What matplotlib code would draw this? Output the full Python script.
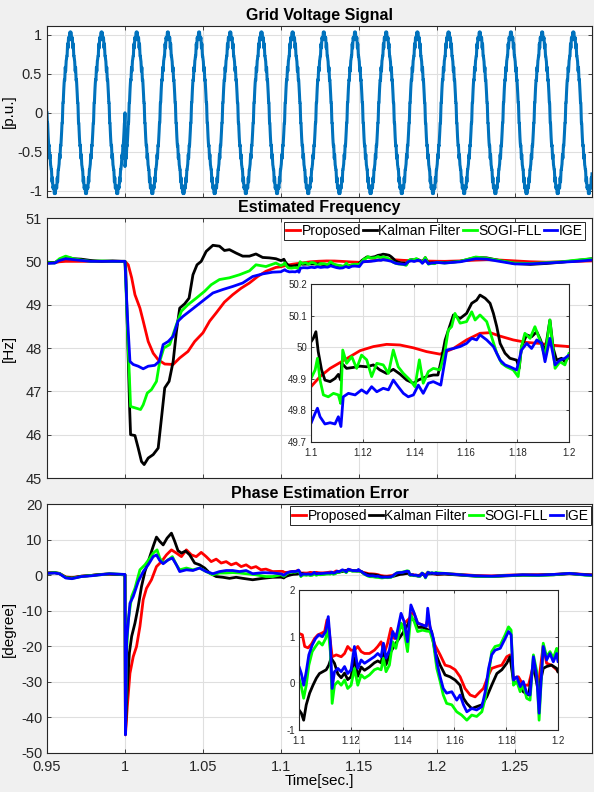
import numpy as np
import matplotlib
matplotlib.use('Agg')
import matplotlib.pyplot as plt
from matplotlib.ticker import FuncFormatter, MultipleLocator

plt.rcParams['font.family'] = ['Liberation Sans', 'DejaVu Sans']
plt.rcParams['axes.unicode_minus'] = False

OUTPUT_FILE = 'out.png'

# ---- grid voltage model (p.u.) ----
V_START, V_END = 0.95, 1.2995
V_FREQ_HZ = 50.0
V_JUMP_TIME = 1.0
V_PHASE_JUMP_DEG = -45.0
V_HARMONIC_ORDER = [3, 5, 7, 27, 39]
V_HARMONIC_AMP = [0.02, 0.03, 0.02, 0.03, 0.025]

SERIES_NAMES = ['Proposed', 'Kalman Filter', 'SOGI-FLL', 'IGE']
SERIES_COLORS = ['#ff0000', '#000000', '#00ff00', '#0000ff']

# ---- estimated frequency [Hz] ----
FREQ_PRE_T = [0.95, 0.955, 0.958, 0.962, 0.967, 0.972, 0.978, 0.985, 0.992, 0.998]
FREQ_PRE_PROPOSED = [49.97, 49.97, 49.99, 50.0, 50.0, 50.0, 50.0, 50.0, 50.0, 50.0]
FREQ_PRE_KALMAN = [49.98, 49.97, 50.04, 50.1, 50.06, 50.05, 50.02, 50.0, 50.01, 50.0]
FREQ_PRE_SOGI = [49.97, 49.96, 50.06, 50.12, 50.06, 50.03, 50.0, 50.01, 50.0, 50.0]
FREQ_PRE_IGE = [49.95, 49.96, 50.02, 50.06, 50.04, 50.02, 50.0, 50.0, 50.0, 50.0]

FREQ_PROPOSED_T = [1.0, 1.0021, 1.0043, 1.0064, 1.0096, 1.0117, 1.0149, 1.0181, 1.0213,
                   1.0255, 1.0309, 1.0351, 1.0404, 1.0447, 1.05, 1.0543, 1.0585, 1.0638,
                   1.0691, 1.0745, 1.0798, 1.0851, 1.0904, 1.0968,
                   1.1, 1.1035, 1.1074, 1.1112, 1.1151, 1.119, 1.1242, 1.1293, 1.1345,
                   1.1397, 1.1448, 1.15, 1.1552, 1.1603, 1.1655, 1.1694, 1.1733, 1.1784,
                   1.1836, 1.1887, 1.1939, 1.2]
FREQ_PROPOSED = [50.0, 49.92, 49.62, 49.23, 48.92, 48.62, 48.15, 47.88, 47.73,
                 47.63, 47.62, 47.77, 47.92, 48.15, 48.35, 48.62, 48.81, 49.06,
                 49.23, 49.38, 49.5, 49.65, 49.77, 49.86,
                 49.875, 49.907, 49.933, 49.951, 49.97, 49.989, 50.002, 50.009, 50.007,
                 49.998, 49.986, 49.978, 49.996, 50.023, 50.044, 50.046, 50.035, 50.023,
                 50.015, 50.012, 50.006, 50.002]

FREQ_KALMAN_T = [1.0, 1.0005, 1.003, 1.0036, 1.0064, 1.0085, 1.0106, 1.0123, 1.0149, 1.0181,
                 1.0213, 1.0234, 1.0255, 1.0283, 1.0309, 1.033, 1.0351, 1.0383, 1.0411,
                 1.0436, 1.0462, 1.0489, 1.0521, 1.0564, 1.0606, 1.0638, 1.067, 1.0713,
                 1.0755, 1.0798, 1.084, 1.0883, 1.0926, 1.0968,
                 1.1, 1.1009, 1.1019, 1.1028, 1.1041, 1.1054, 1.1074, 1.1093, 1.1106,
                 1.1115, 1.1119, 1.1138, 1.1164, 1.119, 1.1216, 1.1242, 1.1267, 1.1293,
                 1.1319, 1.1345, 1.1371, 1.1397, 1.1416, 1.1448, 1.1474, 1.1492, 1.1505,
                 1.152, 1.1552, 1.1578, 1.1603, 1.1623, 1.1642, 1.1655, 1.1675, 1.1694,
                 1.1707, 1.172, 1.1733, 1.1752, 1.1771, 1.1797, 1.1807, 1.1816, 1.1836,
                 1.1855, 1.1875, 1.1887, 1.1907, 1.1926, 1.1939, 1.1952, 1.1971, 1.1984, 1.2]
FREQ_KALMAN = [50.0, 49.8, 46.6, 46.0, 45.98, 45.69, 45.38, 45.31, 45.46, 45.54,
               45.69, 46.38, 47.08, 47.23, 47.69, 48.38, 48.92, 49.02, 49.15,
               49.69, 49.92, 50.0, 50.23, 50.37, 50.35, 50.25, 50.27, 50.19,
               50.12, 50.12, 50.17, 50.09, 50.08, 50.06,
               50.017, 50.028, 50.049, 49.986, 49.928, 49.896, 49.891, 49.901, 49.914,
               49.896, 49.949, 49.933, 49.936, 49.94, 49.938, 49.944, 49.928, 49.917,
               49.93, 49.915, 49.896, 49.886, 49.896, 49.907, 49.912, 49.912, 49.96,
               50.023, 50.102, 50.091, 50.107, 50.139, 50.149, 50.165, 50.155, 50.139,
               50.107, 50.065, 50.012, 49.981, 49.965, 49.959, 49.933, 50.002, 50.039,
               50.033, 50.049, 50.028, 49.986, 50.086, 49.996, 49.959, 49.965, 49.954, 49.97]

FREQ_SOGI_T = [1.0, 1.0021, 1.0036, 1.0064, 1.01, 1.0117, 1.0143, 1.017, 1.0202, 1.0223,
               1.0249, 1.0287, 1.033, 1.0362, 1.0404, 1.0457, 1.0511, 1.0553, 1.0606,
               1.067, 1.0734, 1.0798, 1.084, 1.0904, 1.0968,
               1.1, 1.1016, 1.1025, 1.1035, 1.1048, 1.1067, 1.1087, 1.1106, 1.1115,
               1.1123, 1.1138, 1.1158, 1.1177, 1.1196, 1.1216, 1.1235, 1.1255, 1.128,
               1.13, 1.1319, 1.1338, 1.1358, 1.1384, 1.1403, 1.142, 1.1435, 1.1455,
               1.1474, 1.15, 1.1519, 1.1532, 1.1545, 1.1558, 1.1578, 1.1603, 1.1623,
               1.1636, 1.1655, 1.1681, 1.17, 1.172, 1.1739, 1.1758, 1.1784, 1.1803,
               1.1816, 1.1829, 1.1849, 1.1868, 1.1887, 1.1907, 1.1926, 1.1946, 1.1965,
               1.1984, 1.2]
FREQ_SOGI = [50.0, 48.0, 46.65, 46.62, 46.58, 46.69, 46.96, 47.04, 47.23, 47.69,
             48.0, 48.08, 48.54, 48.85, 49.0, 49.15, 49.31, 49.46, 49.58,
             49.62, 49.69, 49.78, 49.92, 49.88, 49.96,
             49.901, 49.928, 49.965, 49.896, 49.849, 49.843, 49.854, 49.849, 49.822,
             49.991, 49.949, 49.97, 49.933, 49.975, 49.96, 49.907, 49.949, 49.944,
             49.917, 49.991, 49.938, 49.917, 49.896, 49.875, 49.96, 49.886, 49.923,
             49.933, 49.928, 49.986, 50.054, 50.065, 50.107, 50.076, 50.081, 50.112,
             50.086, 50.102, 50.081, 50.033, 49.981, 49.949, 49.938, 49.928, 49.907,
             50.002, 50.044, 50.028, 50.065, 50.023, 49.97, 50.086, 49.933, 49.954,
             49.944, 49.981]

FREQ_IGE_T = [1.0, 1.0015, 1.0032, 1.0053, 1.0085, 1.0117, 1.0149, 1.0191, 1.0219, 1.0245,
              1.0277, 1.0309, 1.034, 1.0372, 1.0415, 1.0468, 1.0521, 1.0564, 1.0628,
              1.0691, 1.0755, 1.0819, 1.0883, 1.0947,
              1.1, 1.1016, 1.1025, 1.1035, 1.1054, 1.1074, 1.1093, 1.1106, 1.1116,
              1.1125, 1.1145, 1.1171, 1.1196, 1.1216, 1.1235, 1.1255, 1.128, 1.13,
              1.1319, 1.1338, 1.1358, 1.1377, 1.1397, 1.1416, 1.1435, 1.1455, 1.1474,
              1.1503, 1.1526, 1.1552, 1.1578, 1.1603, 1.1623, 1.1642, 1.1655, 1.1681,
              1.1707, 1.1733, 1.1752, 1.1771, 1.1797, 1.1816, 1.1836, 1.1855, 1.1875,
              1.1894, 1.1907, 1.1926, 1.1946, 1.1965, 1.1984, 1.2]
FREQ_IGE = [50.0, 48.77, 47.69, 47.62, 47.58, 47.52, 47.58, 47.6, 47.69, 48.08,
            48.15, 48.27, 48.62, 48.73, 48.85, 49.0, 49.15, 49.27, 49.35,
            49.42, 49.5, 49.65, 49.71, 49.75,
            49.759, 49.791, 49.807, 49.78, 49.757, 49.761, 49.757, 49.78, 49.749,
            49.843, 49.854, 49.849, 49.865, 49.854, 49.875, 49.859, 49.87, 49.865,
            49.896, 49.875, 49.854, 49.843, 49.849, 49.88, 49.854, 49.886, 49.891,
            49.88, 49.991, 49.996, 50.002, 50.012, 50.028, 50.023, 50.039, 50.023,
            50.002, 49.959, 49.944, 49.938, 49.928, 49.991, 50.012, 49.996, 50.023,
            50.012, 49.954, 50.028, 49.944, 49.959, 49.965, 49.975]

FREQ_POST_T = [1.205, 1.215, 1.225, 1.232, 1.24, 1.25, 1.26, 1.27, 1.28, 1.29, 1.2995]
FREQ_POST_PROPOSED = [50.0, 50.01, 50.03, 50.04, 50.03, 50.01, 49.99, 49.98, 49.99, 50.0, 50.01]
FREQ_POST_KALMAN = [49.97, 50.0, 50.09, 50.08, 50.02, 49.95, 49.93, 49.95, 49.98, 50.02, 50.06]
FREQ_POST_SOGI = [49.96, 50.0, 50.1, 50.07, 50.02, 49.96, 49.95, 49.97, 49.99, 50.03, 50.06]
FREQ_POST_IGE = [49.96, 49.99, 50.06, 50.05, 50.0, 49.94, 49.94, 49.96, 49.98, 50.0, 50.03]

# ---- phase estimation error [degree] ----
PHASE_PRE_T = [0.95, 0.955, 0.958, 0.962, 0.966, 0.972, 0.978, 0.984, 0.99, 0.995, 0.9995]
PHASE_PRE_PROPOSED = [0.6, 0.7, 0.5, -0.5, -0.7, -0.3, -0.1, 0.2, 0.3, 0.2, 0.1]
PHASE_PRE_KALMAN = [0.6, 0.7, 0.4, -0.6, -0.8, -0.3, -0.1, 0.2, 0.3, 0.2, 0.1]
PHASE_PRE_SOGI = [0.5, 0.7, 0.5, -0.7, -0.9, -0.4, -0.1, 0.1, 0.4, 0.3, 0.1]
PHASE_PRE_IGE = [0.5, 0.6, 0.4, -0.8, -1.0, -0.4, -0.2, 0.1, 0.4, 0.3, 0.2]

PHASE_PROPOSED_T = [1.0, 1.0003, 1.0015, 1.0032, 1.0053, 1.0074, 1.0096, 1.0117, 1.0138,
                    1.017, 1.0202, 1.0234, 1.0266, 1.0298, 1.033, 1.0362, 1.0394, 1.0426,
                    1.0457, 1.0489, 1.0521, 1.0553, 1.0585, 1.0617, 1.0649, 1.0681,
                    1.0713, 1.0745, 1.0777, 1.0809, 1.084, 1.0872, 1.0904, 1.0947,
                    1.1, 1.1013, 1.1022, 1.1035, 1.1048, 1.106, 1.1073, 1.1086, 1.1099,
                    1.1108, 1.1115, 1.1128, 1.1144, 1.1163, 1.1176, 1.1188, 1.1201, 1.1214,
                    1.1227, 1.124, 1.1253, 1.1272, 1.1291, 1.1304, 1.1317, 1.1329, 1.1342,
                    1.1355, 1.1368, 1.1381, 1.14, 1.1413, 1.1426, 1.1441, 1.1458, 1.1477,
                    1.1488, 1.1499, 1.1512, 1.1525, 1.1545, 1.1564, 1.1583, 1.1603, 1.1622,
                    1.1641, 1.1661, 1.168, 1.1699, 1.1712, 1.1732, 1.1744, 1.1764, 1.1783,
                    1.1802, 1.1815, 1.1828, 1.1847, 1.1866, 1.1886, 1.1905, 1.1924, 1.1943,
                    1.1956, 1.1975, 1.1995, 1.2]
PHASE_PROPOSED = [0.1, -44.9, -36.9, -27.6, -22.9, -20.1, -14.4, -6.9, -3.7,
                  -1.3, 2.4, 3.8, 5.7, 7.1, 6.2, 5.2, 7.1, 5.7,
                  5.2, 6.4, 5.2, 3.8, 4.5, 3.4, 3.8, 2.9,
                  3.4, 2.4, 2.9, 2.0, 2.4, 1.5, 1.7, 1.0,
                  1.07, 1.04, 0.79, 0.76, 0.84, 0.96, 1.04, 1.07, 1.11,
                  1.36, 1.18, 0.57, 0.61, 0.57, 0.64, 0.79, 0.71, 0.71,
                  0.79, 0.68, 0.64, 0.64, 0.71, 0.79, 0.89, 0.64, 0.86,
                  1.18, 0.96, 1.11, 1.25, 1.32, 1.39, 1.54, 1.29, 1.25,
                  1.21, 1.39, 1.04, 0.82, 0.61, 0.39, 0.36, 0.29, 0.14,
                  -0.11, -0.25, -0.29, -0.18, -0.11, 0.18, 0.32, 0.36, 0.39,
                  0.57, 0.61, 0.11, 0.14, -0.04, -0.04, 0.39, -0.04, 0.82,
                  0.43, 0.39, 0.29, 0.25]

PHASE_KALMAN_T = [1.0, 1.0003, 1.0011, 1.0028, 1.0043, 1.0064, 1.0085, 1.0106, 1.0128,
                  1.0149, 1.0181, 1.0202, 1.0223, 1.0245, 1.027, 1.0298, 1.0319, 1.034,
                  1.0362, 1.0389, 1.0415, 1.0447, 1.0479, 1.0511, 1.0543, 1.0585,
                  1.0628, 1.067, 1.0713, 1.0755, 1.0819, 1.0883, 1.0947,
                  1.1, 1.1009, 1.1018, 1.1028, 1.1041, 1.1054, 1.1067, 1.1079, 1.1092,
                  1.1105, 1.1115, 1.1124, 1.1137, 1.115, 1.1163, 1.1176, 1.1188, 1.1201,
                  1.1214, 1.1227, 1.124, 1.1253, 1.1272, 1.1291, 1.1304, 1.1317, 1.1326,
                  1.1336, 1.1355, 1.1374, 1.14, 1.1419, 1.1432, 1.1445, 1.1458, 1.1477,
                  1.1486, 1.1512, 1.1525, 1.1545, 1.1564, 1.1583, 1.1603, 1.1622, 1.1635,
                  1.1648, 1.1667, 1.1686, 1.1706, 1.1725, 1.1744, 1.1764, 1.1783, 1.1802,
                  1.1815, 1.1828, 1.1847, 1.1866, 1.1886, 1.1905, 1.1924, 1.1943, 1.1956,
                  1.1975, 1.1995, 1.2]
PHASE_KALMAN = [0.1, -44.4, -35.0, -21.9, -17.2, -13.5, -8.8, -3.2, 1.0,
                3.8, 8.1, 10.7, 9.5, 8.5, 10.4, 11.8, 9.5, 6.9,
                6.2, 6.8, 5.7, 3.4, 2.9, 2.0, 0.6, -0.4,
                -0.6, -0.9, -0.6, -0.9, -1.3, -0.9, -0.6,
                -0.57, -0.64, -0.79, -0.46, -0.21, -0.04, 0.11, 0.21, 0.25,
                0.29, 0.39, 0.54, 0.43, 0.2, 0.12, 0.22, 0.08, 0.14,
                0.55, 0.15, 0.35, 0.28, 0.35, 0.44, 0.48, 0.44, 0.7,
                0.4, 0.68, 0.86, 1.07, 1.25, 1.4, 1.35, 1.2, 1.2,
                1.18, 1.11, 0.68, 0.39, 0.18, 0.14, 0.07, -0.04, -0.32,
                -0.43, -0.54, -0.5, -0.46, -0.29, -0.04, 0.21, 0.29, 0.43,
                0.57, 0.04, 0.0, -0.18, -0.25, 0.39, -0.18, 0.32, 0.36,
                0.39, 0.32, 0.24]

PHASE_SOGI_T = [1.0, 1.0003, 1.0011, 1.0021, 1.0043, 1.0064, 1.0096, 1.0128, 1.016,
                1.0181, 1.0206, 1.0223, 1.0245, 1.0277, 1.0304, 1.033, 1.0351, 1.0394,
                1.0436, 1.0479, 1.0521, 1.0564, 1.0606, 1.0649, 1.0691, 1.0734,
                1.0777, 1.084, 1.0904, 1.0947,
                1.1, 1.1009, 1.1018, 1.1028, 1.1038, 1.1051, 1.1064, 1.1077, 1.109,
                1.1103, 1.1112, 1.1121, 1.1128, 1.1137, 1.115, 1.1163, 1.1176, 1.1188,
                1.1201, 1.1214, 1.1227, 1.124, 1.1253, 1.1272, 1.1291, 1.1304, 1.1317,
                1.1326, 1.1336, 1.1349, 1.1362, 1.1374, 1.1394, 1.1406, 1.1419, 1.1432,
                1.1445, 1.1458, 1.1477, 1.1492, 1.1506, 1.1519, 1.1532, 1.1545, 1.1557,
                1.157, 1.159, 1.1609, 1.1628, 1.1648, 1.1667, 1.1686, 1.1706, 1.1719,
                1.1732, 1.1744, 1.1757, 1.1777, 1.1796, 1.1809, 1.1819, 1.1828, 1.1841,
                1.1854, 1.1866, 1.1879, 1.1892, 1.1905, 1.1918, 1.1927, 1.1943, 1.1956,
                1.1969, 1.1982, 1.1995, 1.2]
PHASE_SOGI = [0.1, -44.4, -21.0, -12.6, -6.0, -3.7, 1.5, 2.9, 4.8,
              6.2, 7.1, 4.8, 3.4, 4.3, 5.2, 2.9, 1.5, 2.0,
              1.5, 2.0, 1.0, 0.1, 0.6, 0.6, 0.7, 0.6,
              0.4, 0.1, -0.4, -0.4,
              0.11, -0.07, -0.32, -0.04, 0.39, 0.68, 0.79, 0.89, 0.82,
              0.96, 1.18, 0.68, -0.43, -0.04, 0.04, -0.04, 0.07, -0.11,
              -0.04, 0.32, -0.04, 0.18, 0.11, 0.18, 0.29, 0.32, 0.29,
              0.54, 0.25, 0.39, 0.89, 0.75, 1.29, 1.11, 0.68, 1.46,
              1.32, 1.11, 1.14, 1.12, 1.11, 0.86, 0.32, 0.04, -0.25,
              -0.43, -0.46, -0.61, -0.68, -0.79, -0.68, -0.71, -0.61, -0.32,
              0.18, 0.68, 0.79, 0.82, 1.04, 1.21, 1.14, -0.04, 0.04,
              -0.18, -0.04, -0.32, -0.36, 0.61, 0.25, -0.79, 0.86, 0.57,
              0.68, 0.54, 0.75, 0.68]

PHASE_IGE_T = [1.0, 1.0003, 1.0011, 1.0032, 1.0053, 1.0085, 1.0117, 1.0149, 1.0181,
               1.0202, 1.0223, 1.0245, 1.0277, 1.0304, 1.033, 1.0351, 1.0394, 1.0436,
               1.0479, 1.0521, 1.0564, 1.0606, 1.0649, 1.0691, 1.0734, 1.0777,
               1.0819, 1.0883, 1.0947,
               1.1, 1.1009, 1.1018, 1.1028, 1.1038, 1.1051, 1.1064, 1.1077, 1.109,
               1.1103, 1.1113, 1.1121, 1.1128, 1.1137, 1.115, 1.1163, 1.1176, 1.1188,
               1.1201, 1.1214, 1.1227, 1.124, 1.1253, 1.1272, 1.1291, 1.1304, 1.1317,
               1.1326, 1.1336, 1.1349, 1.1362, 1.1374, 1.1394, 1.1406, 1.1419, 1.1432,
               1.1445, 1.1458, 1.1477, 1.1492, 1.1497, 1.1506, 1.1519, 1.1532, 1.1545,
               1.1557, 1.157, 1.159, 1.1609, 1.1622, 1.1635, 1.1648, 1.1667, 1.1686,
               1.1706, 1.1719, 1.1732, 1.1744, 1.1757, 1.1777, 1.1796, 1.1809, 1.1819,
               1.1828, 1.1841, 1.1854, 1.1866, 1.1879, 1.1892, 1.1905, 1.1918, 1.1927,
               1.1943, 1.1956, 1.1969, 1.1982, 1.1995, 1.2]
PHASE_IGE = [0.2, -44.9, -18.2, -7.9, -6.0, -1.8, 1.0, 2.9, 5.2,
             5.7, 4.1, 3.2, 4.3, 4.8, 2.9, 1.0, 1.5, 1.3,
             2.0, 1.0, 0.4, 1.0, 1.3, 1.3, 1.0, 1.3,
             0.4, 0.7, 0.6,
             0.36, 0.21, -0.04, 0.25, 0.61, 0.82, 0.96, 1.04, 1.0,
             1.11, 1.43, 0.89, -0.11, 0.25, 0.32, 0.25, 0.36, 0.21,
             0.29, 0.79, 0.32, 0.5, 0.43, 0.5, 0.57, 0.64, 0.57,
             0.86, 0.54, 0.71, 1.11, 0.96, 1.5, 1.32, 0.89, 1.68,
             1.5, 1.29, 1.25, 1.22, 1.61, 1.21, 0.96, 0.46, 0.14,
             -0.11, -0.21, -0.18, -0.36, -0.25, -0.46, -0.61, -0.54, -0.57,
             -0.5, -0.18, 0.32, 0.61, 0.71, 0.75, 0.96, 1.11, 1.04,
             0.07, 0.14, -0.07, 0.04, -0.21, -0.25, 0.57, 0.14, -0.64,
             0.79, 0.5, 0.64, 0.46, 0.64, 0.46]

PHASE_POST_T = [1.205, 1.215, 1.225, 1.235, 1.245, 1.255, 1.265, 1.275, 1.285, 1.295, 1.2995]
PHASE_POST_PROPOSED = [0.4, 0.2, -0.1, -0.2, 0.0, 0.1, 0.1, 0.2, 0.5, 0.2, 0.1]
PHASE_POST_KALMAN = [0.3, 0.0, -0.3, -0.4, -0.2, 0.0, 0.0, 0.1, 0.4, 0.1, 0.0]
PHASE_POST_SOGI = [0.5, 0.1, -0.3, -0.4, -0.1, 0.0, -0.1, 0.1, 0.5, 0.0, -0.1]
PHASE_POST_IGE = [0.5, 0.1, -0.2, -0.3, -0.1, 0.1, 0.0, 0.2, 0.5, 0.1, 0.0]

X_TICKS = [0.95, 1.0, 1.05, 1.1, 1.15, 1.2, 1.25]
X_LIM = (0.95, 1.2995)

BG = '#f0f0f0'
AX_EDGE = '#262626'
GRID_C = '#dfdfdf'
LW = 2.0


def join(pre_t, pre_v, t, v, post_t, post_v):
    return (np.concatenate([pre_t, t, post_t]),
            np.concatenate([pre_v, v, post_v]))


def fmt(v, _):
    return f'{v:g}'


def style_axes(ax, fontsize):
    ax.set_facecolor('white')
    for s in ax.spines.values():
        s.set_color(AX_EDGE)
        s.set_linewidth(0.8)
    ax.tick_params(direction='in', length=3, width=0.6, colors=AX_EDGE,
                   labelsize=fontsize, top=True, right=True)
    ax.grid(True, color=GRID_C, linewidth=0.8)
    ax.set_axisbelow(True)
    ax.xaxis.set_major_formatter(FuncFormatter(fmt))
    ax.yaxis.set_major_formatter(FuncFormatter(fmt))


def main():
    fig = plt.figure(figsize=(5.94, 7.92), dpi=100, facecolor=BG)

    left, width = 47 / 594, 545 / 594
    ax_v = fig.add_axes([left, 1 - 197 / 792, width, 171 / 792])
    ax_f = fig.add_axes([left, 1 - 478 / 792, width, 260 / 792])
    ax_p = fig.add_axes([left, 1 - 753 / 792, width, 249 / 792])

    # grid voltage with a phase jump at t = 1 s
    t = np.arange(V_START, V_END, 1e-5)
    phase = 2 * np.pi * V_FREQ_HZ * t + np.where(t >= V_JUMP_TIME, np.deg2rad(V_PHASE_JUMP_DEG), 0.0)
    v = np.sin(phase)
    for order, amp in zip(V_HARMONIC_ORDER, V_HARMONIC_AMP):
        v += amp * np.sin(order * phase)
    ax_v.plot(t, v, color='#0072bd', linewidth=2.2)
    style_axes(ax_v, 10.5)
    ax_v.set_xlim(*X_LIM)
    ax_v.set_ylim(-1.077, 1.111)
    ax_v.set_xticks(X_TICKS)
    ax_v.set_xticklabels([])
    ax_v.set_yticks([-1, -0.5, 0, 0.5, 1])
    ax_v.set_ylabel('[p.u.]', fontsize=11)
    ax_v.yaxis.set_label_coords(-0.058, 0.5)
    ax_v.set_title('Grid Voltage Signal', fontsize=11.5, fontweight='bold', pad=4)

    freq = [
        join(FREQ_PRE_T, FREQ_PRE_PROPOSED, FREQ_PROPOSED_T, FREQ_PROPOSED, FREQ_POST_T, FREQ_POST_PROPOSED),
        join(FREQ_PRE_T, FREQ_PRE_KALMAN, FREQ_KALMAN_T, FREQ_KALMAN, FREQ_POST_T, FREQ_POST_KALMAN),
        join(FREQ_PRE_T, FREQ_PRE_SOGI, FREQ_SOGI_T, FREQ_SOGI, FREQ_POST_T, FREQ_POST_SOGI),
        join(FREQ_PRE_T, FREQ_PRE_IGE, FREQ_IGE_T, FREQ_IGE, FREQ_POST_T, FREQ_POST_IGE),
    ]
    phase_err = [
        join(PHASE_PRE_T, PHASE_PRE_PROPOSED, PHASE_PROPOSED_T, PHASE_PROPOSED, PHASE_POST_T, PHASE_POST_PROPOSED),
        join(PHASE_PRE_T, PHASE_PRE_KALMAN, PHASE_KALMAN_T, PHASE_KALMAN, PHASE_POST_T, PHASE_POST_KALMAN),
        join(PHASE_PRE_T, PHASE_PRE_SOGI, PHASE_SOGI_T, PHASE_SOGI, PHASE_POST_T, PHASE_POST_SOGI),
        join(PHASE_PRE_T, PHASE_PRE_IGE, PHASE_IGE_T, PHASE_IGE, PHASE_POST_T, PHASE_POST_IGE),
    ]

    for ax, data, title, ylabel, ylim, yticks in [
        (ax_f, freq, 'Estimated Frequency', '[Hz]', (45, 51), np.arange(45, 52, 1)),
        (ax_p, phase_err, 'Phase Estimation Error', '[degree]', (-50, 20), np.arange(-50, 21, 10)),
    ]:
        for (x, y), name, color in zip(data, SERIES_NAMES, SERIES_COLORS):
            ax.plot(x, y, color=color, linewidth=LW, label=name)
        style_axes(ax, 10.5)
        ax.set_xlim(*X_LIM)
        ax.set_ylim(*ylim)
        ax.set_xticks(X_TICKS)
        ax.set_yticks(yticks)
        ax.set_ylabel(ylabel, fontsize=11)
        ax.yaxis.set_label_coords(-0.058, 0.5)
        ax.set_title(title, fontsize=11.5, fontweight='bold', pad=4)

    leg_kw = dict(loc='upper right', ncol=4, fontsize=10, handlelength=1.0,
                  handletextpad=0.1, columnspacing=0.15, borderpad=0.15,
                  borderaxespad=0, fancybox=False, framealpha=1, edgecolor=AX_EDGE)
    leg = ax_f.legend(bbox_to_anchor=(0.987, 0.985), **leg_kw)
    leg.get_frame().set_linewidth(0.7)
    leg = ax_p.legend(bbox_to_anchor=(0.998, 0.99), **leg_kw)
    leg.get_frame().set_linewidth(0.7)

    ax_f.set_xticklabels([])
    ax_p.set_xlabel('Time[sec.]', fontsize=11)
    ax_p.xaxis.set_label_coords(0.5, -0.085)
    ax_p.tick_params(axis='x', pad=5)

    # zoomed views of 1.1 - 1.2 s
    in_f = fig.add_axes([311 / 594, 1 - 442 / 792, 258 / 594, 158 / 792])
    in_p = fig.add_axes([299 / 594, 1 - 730 / 792, 259 / 594, 140 / 792])
    for ax, data, ylim, ystep in [(in_f, freq, (49.7, 50.2), 0.1),
                                  (in_p, phase_err, (-1, 2), 1)]:
        for (x, y), color in zip(data, SERIES_COLORS):
            ax.plot(x, y, color=color, linewidth=LW)
        style_axes(ax, 7)
        ax.set_xlim(1.1, 1.2)
        ax.set_ylim(*ylim)
        ax.xaxis.set_major_locator(MultipleLocator(0.02))
        ax.yaxis.set_major_locator(MultipleLocator(ystep))
        ax.tick_params(length=2)
        ax.tick_params(axis='x', pad=4)
        ax.tick_params(axis='y', pad=3)

    fig.savefig(OUTPUT_FILE, dpi=100, facecolor=BG)


if __name__ == '__main__':
    main()
